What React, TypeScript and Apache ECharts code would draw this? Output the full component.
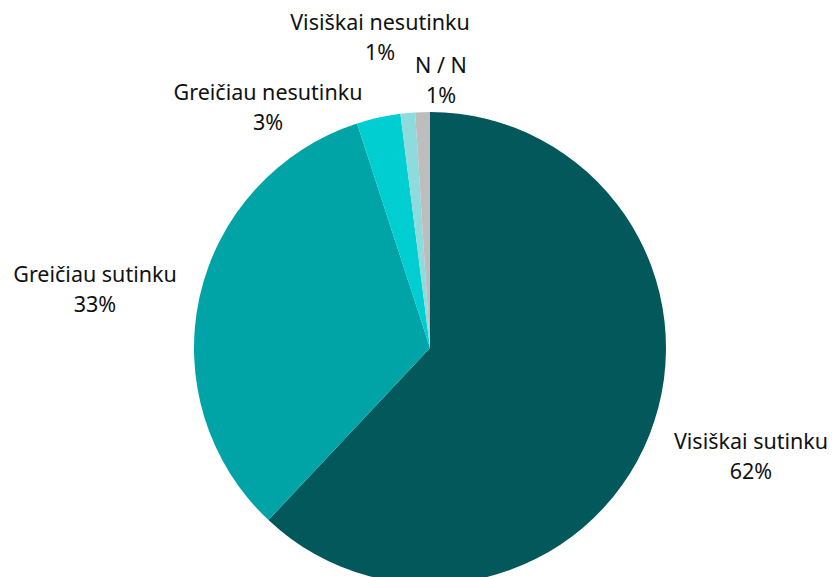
import React, { useEffect, useRef } from "react";
import * as echarts from "echarts";

const categories = ["Visiškai sutinku", "Greičiau sutinku", "Greičiau nesutinku", "Visiškai nesutinku", "N / N"];
const values = [62, 33, 3, 1, 1];
const colors = ["#03585C", "#00A3A6", "#00CED1", "#8DDBDD", "#BDBDBD"];
const labelSpots = [
  { x: 751, y: 455 },
  { x: 95, y: 288 },
  { x: 268, y: 106 },
  { x: 380, y: 36 },
  { x: 441, y: 79 },
];

export default function App() {
  const ref = useRef<HTMLDivElement>(null);
  useEffect(() => {
    if (!ref.current) return;
    const chart = echarts.init(ref.current, null, { renderer: "svg" });
    chart.setOption({
      animation: false,
      backgroundColor: "#ffffff",
      series: [
        {
          type: "pie",
          center: [430, 348],
          radius: 236,
          startAngle: 90,
          clockwise: true,
          data: categories.map((c, i) => ({ name: c, value: values[i], itemStyle: { color: colors[i] } })),
          label: {
            show: true,
            position: "outside",
            formatter: (p: any) => `${p.name}\n${Math.round(p.percent)}%`,
            fontFamily: "Noto Sans",
            fontSize: 21.5,
            lineHeight: 30,
            color: "#111111",
            align: "center",
            overflow: "none",
          },
          labelLine: { show: false },
          labelLayout: (params: any) => {
            const s = labelSpots[params.dataIndex];
            return { x: s.x, y: s.y, align: "center", verticalAlign: "middle" };
          },
        },
      ],
    });
    return () => chart.dispose();
  }, []);
  return <div ref={ref} style={{ position: "fixed", left: 0, top: 0, width: 834, height: 577 }} />;
}
